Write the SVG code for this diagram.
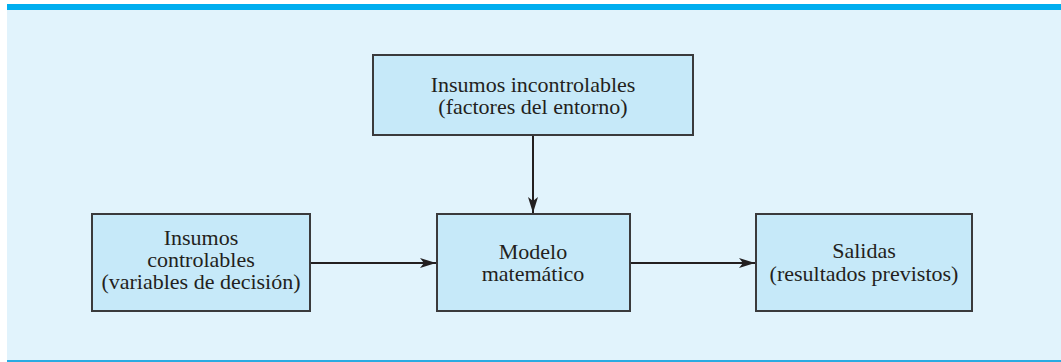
<svg xmlns="http://www.w3.org/2000/svg" width="1061" height="362" viewBox="0 0 1061 362">
<defs>
<style>
.box{fill:#C6E9F9;stroke:#3a3a3c;stroke-width:2}
.t{font-family:"Liberation Serif","Times New Roman",serif;font-size:22px;fill:#231F20;text-anchor:middle}
.c{stroke:#231F20;stroke-width:2;fill:none}
</style>
<marker id="ah" viewBox="0 0 16 10" refX="16" refY="5" markerWidth="16" markerHeight="10" markerUnits="userSpaceOnUse" orient="auto">
<path d="M0,0 L16,5 L0,10 L4,5 Z" fill="#231F20"/>
</marker>
</defs>
<rect x="7" y="4" width="1054" height="358" fill="#E1F3FC"/>
<rect x="7" y="4" width="1054" height="6" fill="#00AEEF"/>
<rect x="7" y="360" width="1054" height="2" fill="#29ABE2"/>
<g id="connectors">
<line class="c" x1="533" y1="135" x2="533" y2="213" marker-end="url(#ah)"/>
<line class="c" x1="310" y1="263" x2="436" y2="263" marker-end="url(#ah)"/>
<line class="c" x1="630" y1="263" x2="755" y2="263" marker-end="url(#ah)"/>
</g>
<g id="incontrolables">
<rect class="box" x="373" y="55" width="320" height="80"/>
<text class="t" x="533" y="92">Insumos incontrolables</text>
<text class="t" x="533" y="114">(factores del entorno)</text>
</g>
<g id="controlables">
<rect class="box" x="92" y="214" width="218" height="97"/>
<text class="t" x="201" y="245">Insumos</text>
<text class="t" x="201" y="267">controlables</text>
<text class="t" x="201" y="289">(variables de decisión)</text>
</g>
<g id="modelo">
<rect class="box" x="437" y="214" width="193" height="97"/>
<text class="t" x="533" y="259">Modelo</text>
<text class="t" x="533" y="281">matemático</text>
</g>
<g id="salidas">
<rect class="box" x="756" y="214" width="216" height="97"/>
<text class="t" x="864" y="258">Salidas</text>
<text class="t" x="864" y="281">(resultados previstos)</text>
</g>
</svg>
